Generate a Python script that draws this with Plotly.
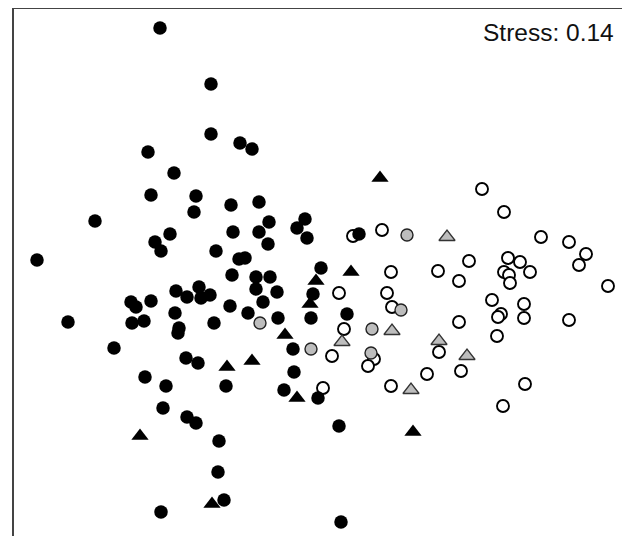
import plotly.graph_objects as go

# NMDS ordination scores (arbitrary units, axis 2 increasing downward)
black_circle_x = [160, 211, 211, 240, 252, 148, 174, 151, 196, 194, 95, 231, 259, 269, 233, 259, 268,
                  305, 297, 307, 170, 155, 161, 216, 37, 239, 245, 359, 321, 176, 187, 199, 201, 210,
                  131, 136, 151, 132, 144, 175, 179, 178, 214, 68, 114, 232, 256, 270, 256, 277, 263,
                  230, 248, 278, 311, 313, 347, 293, 186, 198, 145, 166, 163, 187, 196, 226, 294, 284,
                  318, 339, 219, 218, 224, 161, 341]
black_circle_y = [28, 84, 134, 143, 149, 152, 173, 195, 196, 212, 221, 205, 202, 222, 232, 232, 244,
                  219, 228, 238, 234, 242, 251, 251, 260, 259, 258, 234, 268, 291, 297, 287, 298, 295,
                  302, 307, 301, 323, 321, 313, 328, 333, 323, 322, 348, 275, 277, 277, 289, 292, 302,
                  306, 313, 318, 318, 294, 314, 349, 358, 363, 377, 386, 408, 417, 423, 386, 372, 390,
                  398, 426, 441, 472, 500, 512, 522]

open_circle_x = [353, 382, 391, 339, 387, 392, 344, 332, 374, 368, 323, 391, 482, 504, 541, 569, 586,
                 579, 469, 508, 520, 438, 459, 504, 509, 510, 530, 608, 492, 524, 501, 498, 524, 569,
                 459, 497, 439, 427, 461, 525, 503]
open_circle_y = [236, 230, 272, 293, 293, 307, 329, 356, 359, 366, 388, 386, 189, 212, 237, 242, 254,
                 265, 261, 258, 262, 271, 281, 272, 275, 283, 272, 286, 300, 304, 314, 317, 318, 320,
                 322, 336, 352, 374, 371, 384, 406]

grey_circle_x = [407, 401, 372, 260, 311, 371]
grey_circle_y = [235, 310, 329, 323, 349, 353]

black_tri_x = [380, 351, 316, 310, 285, 227, 252, 297, 413, 140, 212]
black_tri_y = [178, 272, 281, 304, 335, 367, 361, 398, 432, 436, 504]

grey_tri_x = [447, 342, 392, 439, 467, 411]
grey_tri_y = [237, 342, 331, 341, 356, 390]

stress_label = "Stress: 0.14"

fig = go.Figure()
fig.add_trace(go.Scatter(x=open_circle_x, y=open_circle_y, mode="markers",
                         marker=dict(symbol="circle", size=12, color="white",
                                     line=dict(color="black", width=1.9))))
fig.add_trace(go.Scatter(x=grey_circle_x, y=grey_circle_y, mode="markers",
                         marker=dict(symbol="circle", size=12, color="#bdbdbd",
                                     line=dict(color="#222222", width=1.4))))
fig.add_trace(go.Scatter(x=black_circle_x, y=black_circle_y, mode="markers",
                         marker=dict(symbol="circle", size=13.5, color="black",
                                     line=dict(width=0))))
fig.add_trace(go.Scatter(x=black_tri_x, y=black_tri_y, mode="markers",
                         marker=dict(symbol="triangle-up", size=15, color="black",
                                     line=dict(width=0))))
fig.add_trace(go.Scatter(x=grey_tri_x, y=grey_tri_y, mode="markers",
                         marker=dict(symbol="triangle-up", size=14, color="#bdbdbd",
                                     line=dict(color="#333333", width=1.3))))

fig.add_annotation(text=stress_label, xref="paper", yref="paper", x=0.981, y=0.983,
                   xanchor="right", yanchor="top", showarrow=False,
                   font=dict(family="Liberation Sans, Arial", size=24.5, color="#111111"))

frame = dict(color="#444444", width=2)
for x0, y0, x1, y1 in [(0, 0, 0, 1), (0, 1, 1, 1), (1, 1, 1, 0)]:
    fig.add_shape(type="line", xref="paper", yref="paper", x0=x0, y0=y0, x1=x1, y1=y1,
                  line=frame)

fig.update_layout(
    width=622, height=528,
    margin=dict(l=5, r=2, t=0, b=0),
    paper_bgcolor="white", plot_bgcolor="white",
    showlegend=False,
    xaxis=dict(range=[13, 628], visible=False),
    yaxis=dict(range=[536, 8], visible=False),
)

fig.write_html("out.html")
